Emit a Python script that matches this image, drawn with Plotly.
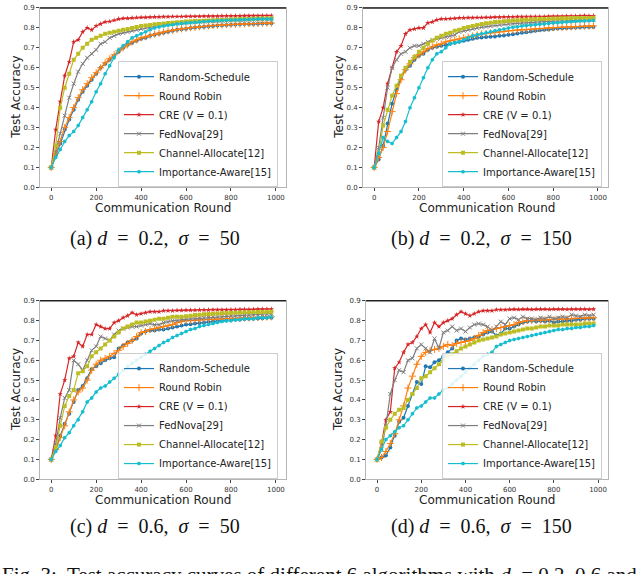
import plotly.graph_objects as go

# communication rounds at which accuracy was logged
ROUNDS = list(range(0, 1000, 20))

NAMES = ["Random-Schedule", "Round Robin", "CRE (V = 0.1)", "FedNova[29]",
         "Channel-Allocate[12]", "Importance-Aware[15]"]

# (a) d = 0.2, sigma = 50
a_rand = [0.10, 0.16, 0.22, 0.29, 0.34, 0.39, 0.44, 0.48, 0.51, 0.54,
          0.57, 0.60, 0.62, 0.64, 0.66, 0.68, 0.70, 0.715, 0.725, 0.735,
          0.745, 0.75, 0.76, 0.765, 0.77, 0.775, 0.78, 0.785, 0.79, 0.793,
          0.796, 0.799, 0.802, 0.804, 0.806, 0.808, 0.81, 0.812, 0.813, 0.815,
          0.816, 0.817, 0.818, 0.819, 0.82, 0.82, 0.821, 0.822, 0.822, 0.823]
a_rr = [0.10, 0.17, 0.23, 0.30, 0.35, 0.40, 0.45, 0.49, 0.52, 0.55,
        0.575, 0.60, 0.625, 0.645, 0.665, 0.685, 0.70, 0.715, 0.73, 0.74,
        0.75, 0.755, 0.762, 0.768, 0.774, 0.779, 0.784, 0.788, 0.792, 0.795,
        0.798, 0.801, 0.803, 0.806, 0.808, 0.81, 0.812, 0.813, 0.815, 0.816,
        0.817, 0.818, 0.819, 0.82, 0.821, 0.822, 0.822, 0.823, 0.824, 0.824]
a_cre = [0.10, 0.29, 0.43, 0.56, 0.63, 0.73, 0.74, 0.78, 0.80, 0.79,
         0.81, 0.82, 0.83, 0.832, 0.838, 0.845, 0.848, 0.848, 0.85, 0.852,
         0.853, 0.853, 0.854, 0.855, 0.855, 0.856, 0.856, 0.857, 0.857, 0.857,
         0.858, 0.858, 0.858, 0.858, 0.859, 0.859, 0.859, 0.859, 0.86, 0.86,
         0.86, 0.86, 0.86, 0.861, 0.861, 0.861, 0.861, 0.862, 0.862, 0.862]
a_fed = [0.10, 0.18, 0.27, 0.36, 0.45, 0.52, 0.58, 0.62, 0.65, 0.67,
         0.69, 0.72, 0.73, 0.75, 0.76, 0.77, 0.775, 0.78, 0.785, 0.79,
         0.795, 0.80, 0.805, 0.81, 0.812, 0.815, 0.818, 0.82, 0.822, 0.824,
         0.826, 0.828, 0.83, 0.831, 0.832, 0.833, 0.834, 0.835, 0.836, 0.837,
         0.838, 0.839, 0.84, 0.84, 0.841, 0.842, 0.842, 0.843, 0.843, 0.844]
a_ch = [0.10, 0.21, 0.40, 0.50, 0.57, 0.64, 0.67, 0.70, 0.72, 0.74,
        0.75, 0.76, 0.77, 0.775, 0.78, 0.785, 0.79, 0.795, 0.80, 0.805,
        0.81, 0.812, 0.815, 0.818, 0.82, 0.822, 0.824, 0.826, 0.828, 0.83,
        0.832, 0.833, 0.834, 0.835, 0.836, 0.837, 0.838, 0.839, 0.84, 0.841,
        0.842, 0.843, 0.844, 0.845, 0.845, 0.846, 0.847, 0.847, 0.848, 0.848]
a_imp = [0.10, 0.15, 0.19, 0.23, 0.26, 0.28, 0.31, 0.35, 0.39, 0.43,
         0.48, 0.52, 0.57, 0.61, 0.65, 0.69, 0.71, 0.73, 0.75, 0.76,
         0.77, 0.78, 0.79, 0.80, 0.805, 0.81, 0.813, 0.816, 0.819, 0.822,
         0.824, 0.826, 0.828, 0.83, 0.832, 0.833, 0.834, 0.836, 0.837, 0.838,
         0.839, 0.84, 0.841, 0.842, 0.842, 0.843, 0.844, 0.844, 0.845, 0.845]

# (b) d = 0.2, sigma = 150
b_rand = [0.10, 0.14, 0.21, 0.32, 0.42, 0.49, 0.55, 0.59, 0.61, 0.64,
          0.66, 0.67, 0.69, 0.70, 0.705, 0.71, 0.715, 0.72, 0.725, 0.73,
          0.735, 0.74, 0.745, 0.75, 0.752, 0.754, 0.755, 0.757, 0.76, 0.762,
          0.765, 0.768, 0.772, 0.775, 0.778, 0.782, 0.785, 0.788, 0.79, 0.792,
          0.795, 0.797, 0.798, 0.80, 0.801, 0.802, 0.803, 0.804, 0.805, 0.805]
b_rr = [0.10, 0.15, 0.20, 0.28, 0.38, 0.47, 0.54, 0.59, 0.62, 0.65,
        0.665, 0.68, 0.695, 0.705, 0.715, 0.72, 0.73, 0.735, 0.74, 0.745,
        0.75, 0.755, 0.76, 0.765, 0.77, 0.772, 0.775, 0.778, 0.78, 0.782,
        0.785, 0.787, 0.789, 0.79, 0.792, 0.793, 0.795, 0.797, 0.798, 0.80,
        0.801, 0.802, 0.803, 0.804, 0.805, 0.806, 0.807, 0.808, 0.809, 0.81]
b_cre = [0.10, 0.33, 0.40, 0.52, 0.60, 0.68, 0.71, 0.77, 0.79, 0.795,
         0.80, 0.80, 0.825, 0.83, 0.84, 0.845, 0.845, 0.846, 0.848, 0.85,
         0.85, 0.851, 0.851, 0.852, 0.852, 0.853, 0.853, 0.854, 0.854, 0.855,
         0.855, 0.855, 0.856, 0.856, 0.856, 0.857, 0.857, 0.857, 0.857, 0.858,
         0.858, 0.858, 0.858, 0.859, 0.859, 0.859, 0.86, 0.862, 0.86, 0.86]
b_fed = [0.10, 0.20, 0.35, 0.50, 0.60, 0.64, 0.67, 0.68, 0.70, 0.71,
         0.71, 0.72, 0.73, 0.74, 0.745, 0.75, 0.755, 0.76, 0.765, 0.78,
         0.785, 0.79, 0.795, 0.80, 0.803, 0.806, 0.809, 0.812, 0.815, 0.817,
         0.819, 0.821, 0.823, 0.825, 0.827, 0.828, 0.829, 0.83, 0.831, 0.832,
         0.833, 0.834, 0.835, 0.836, 0.836, 0.837, 0.838, 0.838, 0.839, 0.84]
b_ch = [0.10, 0.17, 0.31, 0.39, 0.46, 0.51, 0.56, 0.60, 0.63, 0.655,
        0.68, 0.70, 0.72, 0.735, 0.75, 0.76, 0.77, 0.775, 0.785, 0.79,
        0.80, 0.805, 0.81, 0.815, 0.82, 0.823, 0.826, 0.829, 0.831, 0.833,
        0.835, 0.837, 0.838, 0.84, 0.841, 0.842, 0.843, 0.844, 0.845, 0.846,
        0.847, 0.847, 0.848, 0.848, 0.849, 0.849, 0.85, 0.85, 0.85, 0.851]
b_imp = [0.10, 0.17, 0.25, 0.23, 0.22, 0.25, 0.28, 0.33, 0.40, 0.45,
         0.50, 0.55, 0.60, 0.64, 0.67, 0.68, 0.70, 0.72, 0.725, 0.73,
         0.74, 0.75, 0.76, 0.765, 0.77, 0.775, 0.78, 0.785, 0.79, 0.795,
         0.80, 0.803, 0.806, 0.809, 0.812, 0.814, 0.816, 0.818, 0.82, 0.822,
         0.824, 0.826, 0.828, 0.83, 0.831, 0.833, 0.834, 0.835, 0.836, 0.837]

# (c) d = 0.6, sigma = 50
c_rand = [0.10, 0.15, 0.22, 0.28, 0.33, 0.39, 0.45, 0.47, 0.51, 0.555,
          0.57, 0.585, 0.60, 0.61, 0.615, 0.66, 0.675, 0.69, 0.70, 0.71,
          0.735, 0.745, 0.75, 0.75, 0.755, 0.755, 0.76, 0.765, 0.77, 0.775,
          0.78, 0.782, 0.785, 0.788, 0.79, 0.793, 0.795, 0.797, 0.80, 0.801,
          0.803, 0.805, 0.806, 0.808, 0.809, 0.81, 0.811, 0.812, 0.814, 0.815]
c_rr = [0.10, 0.15, 0.21, 0.27, 0.34, 0.40, 0.44, 0.46, 0.50, 0.55,
        0.58, 0.60, 0.61, 0.62, 0.635, 0.65, 0.67, 0.685, 0.70, 0.72,
        0.74, 0.745, 0.755, 0.76, 0.765, 0.77, 0.775, 0.78, 0.79, 0.795,
        0.80, 0.80, 0.802, 0.804, 0.805, 0.806, 0.807, 0.808, 0.809, 0.81,
        0.81, 0.811, 0.812, 0.813, 0.814, 0.815, 0.816, 0.817, 0.818, 0.819]
c_cre = [0.10, 0.22, 0.43, 0.50, 0.61, 0.62, 0.69, 0.67, 0.73, 0.73,
         0.78, 0.77, 0.76, 0.76, 0.79, 0.80, 0.815, 0.825, 0.84, 0.83,
         0.835, 0.84, 0.845, 0.845, 0.845, 0.85, 0.85, 0.85, 0.852, 0.852,
         0.853, 0.853, 0.853, 0.854, 0.854, 0.854, 0.855, 0.855, 0.855, 0.855,
         0.856, 0.856, 0.857, 0.857, 0.857, 0.857, 0.858, 0.858, 0.858, 0.858]
c_fed = [0.10, 0.18, 0.31, 0.41, 0.45, 0.60, 0.58, 0.55, 0.60, 0.65,
         0.67, 0.72, 0.71, 0.70, 0.73, 0.75, 0.76, 0.765, 0.77, 0.77,
         0.775, 0.78, 0.785, 0.78, 0.78, 0.79, 0.795, 0.80, 0.80, 0.805,
         0.806, 0.808, 0.81, 0.812, 0.814, 0.816, 0.818, 0.819, 0.82, 0.822,
         0.823, 0.824, 0.825, 0.826, 0.828, 0.829, 0.83, 0.831, 0.833, 0.835]
c_ch = [0.10, 0.16, 0.27, 0.37, 0.42, 0.45, 0.535, 0.545, 0.57, 0.62,
        0.64, 0.66, 0.68, 0.70, 0.72, 0.74, 0.76, 0.77, 0.78, 0.79,
        0.79, 0.795, 0.80, 0.805, 0.81, 0.81, 0.815, 0.82, 0.82, 0.82,
        0.822, 0.825, 0.828, 0.83, 0.832, 0.834, 0.835, 0.836, 0.837, 0.838,
        0.839, 0.84, 0.841, 0.842, 0.842, 0.843, 0.844, 0.844, 0.845, 0.845]
c_imp = [0.10, 0.14, 0.17, 0.21, 0.235, 0.27, 0.30, 0.34, 0.39, 0.41,
         0.44, 0.46, 0.47, 0.49, 0.51, 0.53, 0.55, 0.57, 0.585, 0.60,
         0.615, 0.63, 0.645, 0.66, 0.675, 0.69, 0.70, 0.715, 0.725, 0.735,
         0.745, 0.755, 0.76, 0.77, 0.775, 0.78, 0.785, 0.79, 0.795, 0.80,
         0.80, 0.805, 0.805, 0.81, 0.81, 0.81, 0.815, 0.815, 0.815, 0.82]

# (d) d = 0.6, sigma = 150
d_rand = [0.10, 0.11, 0.12, 0.16, 0.22, 0.29, 0.31, 0.37, 0.43, 0.49,
          0.48, 0.57, 0.565, 0.59, 0.60, 0.62, 0.64, 0.66, 0.70, 0.71,
          0.705, 0.71, 0.715, 0.72, 0.73, 0.74, 0.745, 0.725, 0.735, 0.76,
          0.76, 0.77, 0.78, 0.79, 0.795, 0.80, 0.795, 0.80, 0.795, 0.80,
          0.79, 0.795, 0.795, 0.80, 0.80, 0.805, 0.805, 0.81, 0.81, 0.81]
d_rr = [0.10, 0.11, 0.14, 0.18, 0.23, 0.30, 0.37, 0.46, 0.52, 0.58,
        0.62, 0.64, 0.65, 0.655, 0.66, 0.67, 0.68, 0.675, 0.685, 0.69,
        0.695, 0.70, 0.71, 0.725, 0.74, 0.75, 0.755, 0.76, 0.765, 0.77,
        0.775, 0.78, 0.79, 0.795, 0.80, 0.80, 0.802, 0.803, 0.804, 0.805,
        0.806, 0.807, 0.808, 0.809, 0.81, 0.811, 0.812, 0.813, 0.814, 0.815]
d_cre = [0.10, 0.18, 0.30, 0.34, 0.56, 0.59, 0.64, 0.68, 0.69, 0.72,
         0.76, 0.78, 0.74, 0.79, 0.77, 0.79, 0.80, 0.81, 0.83, 0.845,
         0.835, 0.825, 0.835, 0.845, 0.85, 0.85, 0.85, 0.855, 0.855, 0.855,
         0.857, 0.858, 0.857, 0.858, 0.858, 0.857, 0.858, 0.858, 0.858, 0.857,
         0.858, 0.858, 0.858, 0.857, 0.858, 0.858, 0.858, 0.858, 0.857, 0.858]
d_fed = [0.10, 0.15, 0.27, 0.43, 0.50, 0.55, 0.54, 0.60, 0.61, 0.66,
         0.68, 0.66, 0.64, 0.71, 0.66, 0.74, 0.75, 0.77, 0.75, 0.76,
         0.745, 0.765, 0.78, 0.785, 0.78, 0.77, 0.75, 0.77, 0.795, 0.78,
         0.81, 0.815, 0.805, 0.82, 0.81, 0.81, 0.805, 0.815, 0.81, 0.82,
         0.81, 0.815, 0.82, 0.815, 0.83, 0.825, 0.82, 0.83, 0.825, 0.83]
d_ch = [0.10, 0.19, 0.26, 0.30, 0.33, 0.35, 0.36, 0.40, 0.43, 0.46,
        0.51, 0.52, 0.54, 0.56, 0.58, 0.60, 0.62, 0.63, 0.645, 0.66,
        0.67, 0.68, 0.69, 0.70, 0.705, 0.71, 0.715, 0.72, 0.73, 0.735,
        0.74, 0.745, 0.75, 0.755, 0.76, 0.76, 0.765, 0.77, 0.77, 0.775,
        0.775, 0.775, 0.78, 0.78, 0.78, 0.78, 0.78, 0.785, 0.785, 0.785]
d_imp = [0.10, 0.15, 0.20, 0.22, 0.24, 0.26, 0.27, 0.30, 0.33, 0.36,
         0.37, 0.39, 0.41, 0.41, 0.43, 0.45, 0.46, 0.48, 0.50, 0.52,
         0.54, 0.56, 0.58, 0.60, 0.62, 0.63, 0.64, 0.67, 0.68, 0.69,
         0.70, 0.705, 0.71, 0.715, 0.72, 0.725, 0.73, 0.735, 0.74, 0.745,
         0.75, 0.755, 0.755, 0.76, 0.76, 0.765, 0.765, 0.77, 0.77, 0.775]

PANELS = [[a_rand, a_rr, a_cre, a_fed, a_ch, a_imp],
          [b_rand, b_rr, b_cre, b_fed, b_ch, b_imp],
          [c_rand, c_rr, c_cre, c_fed, c_ch, c_imp],
          [d_rand, d_rr, d_cre, d_fed, d_ch, d_imp]]
EQ = "\u00a0\u00a0=\u00a0\u00a0"
CAPTIONS = ["(a) <i>d</i>" + EQ + "0.2,\u00a0 <i>σ</i>" + EQ + "50",
            "(b) <i>d</i>" + EQ + "0.2,\u00a0 <i>σ</i>" + EQ + "150",
            "(c) <i>d</i>" + EQ + "0.6,\u00a0 <i>σ</i>" + EQ + "50",
            "(d) <i>d</i>" + EQ + "0.6,\u00a0 <i>σ</i>" + EQ + "150"]
FIG_CAPTION = ("Fig. 3:\u00a0 Test accuracy curves of different 6 algorithms with "
               "<i>d</i>\u00a0 = 0.2, 0.6 and")
X_TICKS = [0, 200, 400, 600, 800, 1000]
Y_TICKS = [0.0, 0.1, 0.2, 0.3, 0.4, 0.5, 0.6, 0.7, 0.8, 0.9]

COLORS = ["#1f77b4", "#ff7f0e", "#d62728", "#7f7f7f", "#bcbd22", "#17becf"]
SYMBOLS = ["circle", "cross-thin", "star", "x-thin", "square", "hexagon"]
SIZES = [4, 5, 4, 4, 4, 4]

W, H = 640, 574
def px(x):
    return x / W
def py(y):
    return 1 - y / H

# plot boxes in pixels: left, right, top, bottom
BOXES = [(40, 286, 4, 186), (363, 608, 4, 186), (40, 286, 301, 482), (366, 608, 301, 482)]
LEG_POS = [(118, 58), (442, 58), (118, 354), (442, 354)]
YLAB_X = [16, 339, 16, 338]
XLAB = [(163, 207), (487, 207), (163, 503), (487, 503)]
CAP = [(155, 238), (481, 238), (155, 530), (481, 530)]

fig = go.Figure()
layout = dict(width=W, height=H, margin=dict(l=0, r=0, t=0, b=0),
              paper_bgcolor="white", plot_bgcolor="white",
              font=dict(family="DejaVu Sans", color="#222"))
annotations = []
shapes = []

for p in range(4):
    ax = "" if p == 0 else str(p + 1)
    leg = "legend" + ax
    for k in range(6):
        thin = SYMBOLS[k].endswith("thin")
        fig.add_trace(go.Scatter(
            x=ROUNDS, y=PANELS[p][k], name=NAMES[k], mode="lines+markers",
            xaxis="x" + ax, yaxis="y" + ax, legend=leg,
            line=dict(color=COLORS[k], width=1.2),
            marker=dict(symbol=SYMBOLS[k], size=SIZES[k], color=COLORS[k],
                        line=dict(color=COLORS[k], width=1 if thin else 0))))
    l, r, t, b = BOXES[p]
    layout["xaxis" + ax] = dict(domain=[px(l), px(r)], anchor="y" + ax, range=[-50, 1045],
                                tickvals=X_TICKS, ticks="outside", ticklen=3, tickcolor="#444",
                                tickfont=dict(size=7, color="#333"), showline=True,
                                linecolor="#b5b5b5", mirror=True, showgrid=False, zeroline=False)
    layout["yaxis" + ax] = dict(domain=[py(b), py(t)], anchor="x" + ax, range=[0, 0.9],
                                tickvals=Y_TICKS, tickformat=".1f", ticks="outside", ticklen=3,
                                tickcolor="#444", tickfont=dict(size=7, color="#333"),
                                showline=True, linecolor="#b5b5b5", mirror=True,
                                showgrid=False, zeroline=False)
    lx, ly = LEG_POS[p]
    layout[leg] = dict(x=px(lx), y=py(ly), xanchor="left", yanchor="top",
                       bgcolor="rgba(255,255,255,0.85)", bordercolor="#cccccc", borderwidth=1,
                       font=dict(size=10, color="#222"), itemwidth=30, tracegroupgap=0)
    # dark top spine
    shapes.append(dict(type="line", xref="x" + ax + " domain", yref="y" + ax + " domain",
                       x0=0, x1=1, y0=1, y1=1, line=dict(color="#222", width=1.5)))
    annotations.append(dict(text="Test Accuracy", x=px(YLAB_X[p]), y=py((t + b) / 2),
                            xref="paper", yref="paper", xanchor="center", yanchor="middle",
                            textangle=-90, showarrow=False, font=dict(size=12, color="#222")))
    annotations.append(dict(text="Communication Round", x=px(XLAB[p][0]), y=py(XLAB[p][1]),
                            xref="paper", yref="paper", xanchor="center", yanchor="middle",
                            showarrow=False, font=dict(size=12, color="#222")))
    annotations.append(dict(text=CAPTIONS[p], x=px(CAP[p][0]), y=py(CAP[p][1]),
                            xref="paper", yref="paper", xanchor="center", yanchor="middle",
                            showarrow=False,
                            font=dict(family="Liberation Serif", size=20, color="#111")))

annotations.append(dict(text=FIG_CAPTION, x=0, y=py(565), xref="paper", yref="paper",
                        xanchor="left", yanchor="top", showarrow=False,
                        font=dict(family="Liberation Serif", size=21, color="#111")))

layout["annotations"] = annotations
layout["shapes"] = shapes
fig.update_layout(**layout)
fig.write_html("out.html", config={"displayModeBar": False},
               post_script="document.body.style.margin='0';")
